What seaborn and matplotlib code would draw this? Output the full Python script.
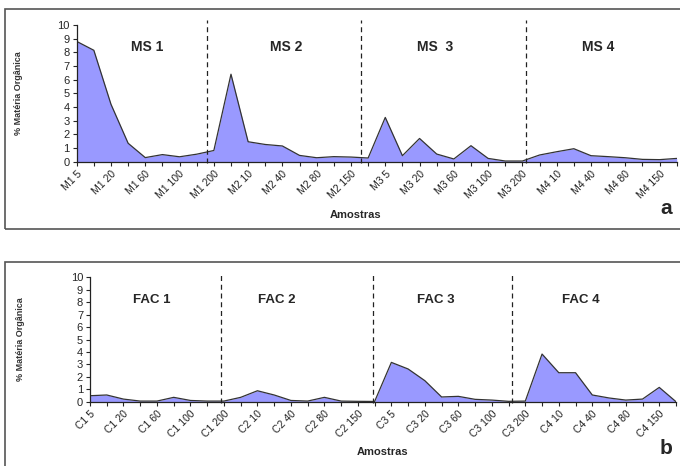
import matplotlib
matplotlib.use("Agg")
import matplotlib.pyplot as plt
import matplotlib.transforms as mtransforms
from matplotlib.patches import Rectangle
import numpy as np
import pandas as pd
import seaborn as sns

# -------------------------
# Data
# -------------------------
ms_samples = ["M1 5", "M1 10", "M1 20", "M1 40", "M1 60", "M1 80", "M1 100", "M1 150", "M1 200",
              "M2 5", "M2 10", "M2 20", "M2 40", "M2 60", "M2 80", "M2 100", "M2 150", "M2 200",
              "M3 5", "M3 10", "M3 20", "M3 40", "M3 60", "M3 80", "M3 100", "M3 150", "M3 200",
              "M4 5", "M4 10", "M4 20", "M4 40", "M4 60", "M4 80", "M4 100", "M4 150", "M4 200"]
ms_values = [8.8, 8.15, 4.2, 1.35, 0.3, 0.52, 0.36, 0.55, 0.82,
             6.4, 1.46, 1.26, 1.15, 0.46, 0.29, 0.37, 0.34, 0.27,
             3.24, 0.44, 1.7, 0.56, 0.2, 1.17, 0.24, 0.05, 0.05,
             0.49, 0.73, 0.95, 0.44, 0.37, 0.29, 0.17, 0.15, 0.24]

fac_samples = ["C1 5", "C1 10", "C1 20", "C1 40", "C1 60", "C1 80", "C1 100", "C1 150", "C1 200",
               "C2 5", "C2 10", "C2 20", "C2 40", "C2 60", "C2 80", "C2 100", "C2 150", "C2 200",
               "C3 5", "C3 10", "C3 20", "C3 40", "C3 60", "C3 80", "C3 100", "C3 150", "C3 200",
               "C4 5", "C4 10", "C4 20", "C4 40", "C4 60", "C4 80", "C4 100", "C4 150", "C4 200"]
fac_values = [0.48, 0.54, 0.21, 0.05, 0.05, 0.35, 0.1, 0.05, 0.05,
              0.35, 0.88, 0.54, 0.1, 0.05, 0.35, 0.05, 0.03, 0.02,
              3.16, 2.63, 1.69, 0.38, 0.43, 0.19, 0.13, 0.03, 0.05,
              3.83, 2.33, 2.33, 0.54, 0.3, 0.13, 0.21, 1.15, 0.0]

ms_groups = ["MS 1", "MS 2", "MS  3", "MS 4"]
fac_groups = ["FAC 1", "FAC 2", "FAC 3", "FAC 4"]

# layout: group title positions and separator positions (category units)
ms_title_x = [4.1, 12.2, 20.9, 30.4]
ms_sep_x = [7.6, 16.57, 26.2]
fac_title_x = [3.7, 11.15, 20.67, 29.3]
fac_sep_x = [7.83, 16.9, 25.2]

sns.set_style("ticks")
plt.rcParams["font.family"] = ["Liberation Sans", "DejaVu Sans"]

fig = plt.figure(figsize=(6.8, 4.66), dpi=100)

# panel frames
fig.patches.append(Rectangle((5 / 680, 1 - 229 / 466), 690 / 680, 220 / 466,
                             transform=fig.transFigure, fill=False,
                             edgecolor="#555555", linewidth=1.2))
fig.patches.append(Rectangle((5 / 680, -0.1), 690 / 680, (466 - 261.5) / 466 + 0.1,
                             transform=fig.transFigure, fill=False,
                             edgecolor="#555555", linewidth=1.2))


def draw_panel(ax, samples, values, groups, title_x, sep_x, title_y, label_dx, ylabel_x,
               title_size):
    df = pd.DataFrame({"pos": np.arange(len(samples)), "value": values})
    ax.fill_between(df["pos"], df["value"], color="#9999FF", linewidth=0)
    sns.lineplot(data=df, x="pos", y="value", ax=ax, color="#333333", linewidth=0.9)
    ax.set_xlim(0, len(samples) - 1)
    ax.set_ylim(0, 10)
    ax.set_yticks(range(0, 11))
    ax.tick_params(axis="y", labelsize=8, length=3, width=0.8, pad=2)
    ax.tick_params(axis="x", length=3, width=0.8, pad=0)
    ax.set_xticks(df["pos"])
    ax.set_xticklabels([s if i % 2 == 0 else "" for i, s in enumerate(samples)],
                       rotation=45, ha="right", va="top", rotation_mode="anchor",
                       fontsize=7.5, color="#222222")
    offset = mtransforms.ScaledTranslation(label_dx / 100, -3 / 100, fig.dpi_scale_trans)
    for lab in ax.get_xticklabels():
        lab.set_transform(lab.get_transform() + offset)
    sns.despine(ax=ax)
    for sp in ["left", "bottom"]:
        ax.spines[sp].set_linewidth(0.9)
        ax.spines[sp].set_color("#222222")
    ax.set_xlabel("")
    ax.set_ylabel("% Matéria Orgânica", fontsize=6.5, fontweight="bold", color="#333333")
    ax.yaxis.set_label_coords(ylabel_x, 0.5)
    for g, gx in zip(groups, title_x):
        ax.text(gx, title_y, g, ha="center", va="center", fontsize=title_size,
                fontweight="bold")
    for sx in sep_x:
        ax.plot([sx, sx], [-0.1, 10.35], color="#222222", linestyle=(0, (4, 3)),
                linewidth=0.9, clip_on=False)


ax1 = fig.add_axes([76.7 / 680, 1 - 161.7 / 466, 600 / 680, 136.7 / 466])
draw_panel(ax1, ms_samples, ms_values, ms_groups, ms_title_x, ms_sep_x, 8.4, -0.07,
           (23 - 76.7) / 600, 10)
fig.text(356 / 680, 1 - 215 / 466, "Amostras", ha="center", va="center", fontsize=8,
         fontweight="bold")
fig.text(666 / 680, 1 - 208 / 466, "a", ha="center", va="center", fontsize=15,
         fontweight="bold")

ax2 = fig.add_axes([90 / 680, 1 - 401.7 / 466, 586 / 680, 124.4 / 466])
draw_panel(ax2, fac_samples, fac_values, fac_groups, fac_title_x, fac_sep_x, 8.18, -0.1,
           (25 - 90) / 586, 9.5)
fig.text(383 / 680, 1 - 452 / 466, "Amostras", ha="center", va="center", fontsize=8,
         fontweight="bold")
fig.text(666 / 680, 1 - 449 / 466, "b", ha="center", va="center", fontsize=15,
         fontweight="bold")

fig.savefig("out.png", dpi=100)
